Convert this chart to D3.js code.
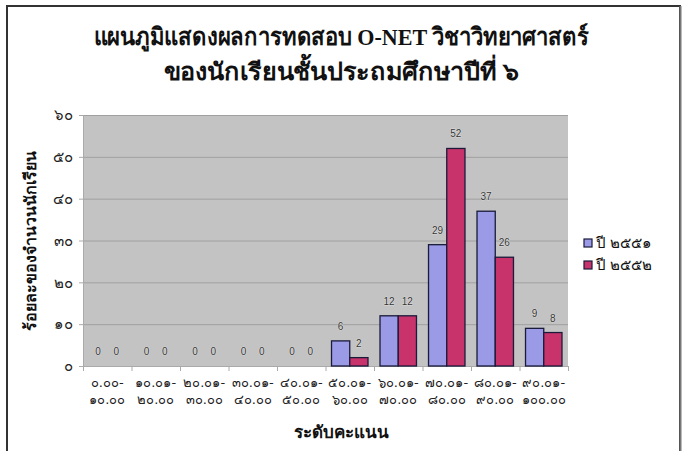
<!DOCTYPE html>
<html>
<head>
<meta charset="utf-8">
<script src="https://cdn.jsdelivr.net/npm/d3@7"></script>
<style>
  html, body { margin: 0; padding: 0; background: #fff; }
  svg { display: block; }
</style>
</head>
<body>
<svg id="chart" width="683" height="451"></svg>
<script>
const categories = [
  ["๐.๐๐-", "๑๐.๐๐"],
  ["๑๐.๐๑-", "๒๐.๐๐"],
  ["๒๐.๐๑-", "๓๐.๐๐"],
  ["๓๐.๐๑-", "๔๐.๐๐"],
  ["๔๐.๐๑-", "๕๐.๐๐"],
  ["๕๐.๐๑-", "๖๐.๐๐"],
  ["๖๐.๐๑-", "๗๐.๐๐"],
  ["๗๐.๐๑-", "๘๐.๐๐"],
  ["๘๐.๐๑-", "๙๐.๐๐"],
  ["๙๐.๐๑-", "๑๐๐.๐๐"]
];
const seriesNames = ["ปี ๒๕๕๑", "ปี ๒๕๕๒"];
const values2551 = [0, 0, 0, 0, 0, 6, 12, 29, 37, 9];
const values2552 = [0, 0, 0, 0, 0, 2, 12, 52, 26, 8];
const yTicks = [0, 10, 20, 30, 40, 50, 60];
const yTickLabels = ["๐", "๑๐", "๒๐", "๓๐", "๔๐", "๕๐", "๖๐"];
const titleLines = ["แผนภูมิแสดงผลการทดสอบ O-NET วิชาวิทยาศาสตร์", "ของนักเรียนชั้นประถมศึกษาปีที่ ๖"];
const xTitle = "ระดับคะแนน";
const yTitle = "ร้อยละของจำนวนนักเรียน";
const colors = ["#9a9ae6", "#c8336b"];

const svg = d3.select("#chart");
const plot = {left: 83, top: 115, right: 568, bottom: 366};

// outer border
svg.append("rect").attr("x", 7).attr("y", 6).attr("width", 673).attr("height", 460)
  .attr("fill", "#fff").attr("stroke", "#333").attr("stroke-width", 2);
svg.append("line").attr("x1", 680.5).attr("x2", 680.5).attr("y1", 6).attr("y2", 451)
  .attr("stroke", "#777").attr("stroke-width", 2);

const serif = "'Liberation Serif', 'DejaVu Serif', serif";
const sans = "'DejaVu Sans', 'Liberation Sans', 'Noto Sans', sans-serif";

// title
const titleWidths = [495, 355];
svg.append("g").selectAll("text").data(titleLines).join("text")
  .attr("x", 341).attr("y", (d, i) => 45 + i * 35)
  .attr("text-anchor", "middle")
  .attr("font-family", serif).attr("font-weight", "bold").attr("font-size", 24)
  .attr("textLength", (d, i) => titleWidths[i]).attr("lengthAdjust", "spacingAndGlyphs")
  .attr("fill", "#111")
  .text(d => d);

const x = d3.scaleBand().domain(d3.range(categories.length)).range([plot.left, plot.right]);
const xInner = d3.scaleBand().domain([0, 1]).range([0, x.bandwidth()]).paddingInner(0).paddingOuter(0.33);
const y = d3.scaleLinear().domain([0, 60]).range([plot.bottom, plot.top]);

// plot background
svg.append("rect").attr("x", plot.left).attr("y", plot.top)
  .attr("width", plot.right - plot.left).attr("height", plot.bottom - plot.top)
  .attr("fill", "#c3c3c3");

// gridlines
svg.append("g").selectAll("line").data(yTicks.filter(t => t > 0)).join("line")
  .attr("x1", plot.left).attr("x2", plot.right)
  .attr("y1", d => y(d) + 0.5).attr("y2", d => y(d) + 0.5)
  .attr("stroke", "#a0a0a0").attr("stroke-width", 1);

// y axis
const yAxis = d3.axisLeft(y).tickValues(yTicks).tickSize(4).tickPadding(6)
  .tickFormat((d, i) => yTickLabels[i]);
const gy = svg.append("g").attr("transform", `translate(${plot.left},0)`).call(yAxis);
gy.select(".domain").attr("stroke", "#aaa");
gy.selectAll(".tick line").attr("stroke", "#aaa");
gy.selectAll(".tick text").attr("font-family", sans).attr("font-size", 15).attr("fill", "#222");

// x axis
const xb = d3.scaleLinear().domain([0, categories.length]).range([plot.left, plot.right]);
const gx = svg.append("g").attr("transform", `translate(0,${plot.bottom})`)
  .call(d3.axisBottom(xb).tickValues(d3.range(categories.length + 1)).tickSize(5).tickFormat(""));
gx.select(".domain").attr("stroke", "#aaa");
gx.selectAll(".tick line").attr("stroke", "#aaa");

const catLabels = svg.append("g").selectAll("text").data(categories).join("text")
  .attr("text-anchor", "middle")
  .attr("font-family", sans).attr("font-size", 13).attr("fill", "#222");
catLabels.each(function(d, i) {
  const t = d3.select(this);
  d.forEach((line, j) => {
    t.append("tspan").attr("x", x(i) + x.bandwidth() / 2).attr("y", 387 + j * 17).text(line);
  });
});

// bars
const series = [values2551, values2552];
series.forEach((vals, s) => {
  const g = svg.append("g");
  g.selectAll("rect").data(vals).join("rect")
    .attr("x", (d, i) => x(i) + xInner(s))
    .attr("y", d => y(d))
    .attr("width", xInner.bandwidth())
    .attr("height", d => y(0) - y(d))
    .attr("fill", colors[s])
    .attr("stroke", d => d > 0 ? "#1a1a3a" : "none").attr("stroke-width", 1.3);
  g.selectAll("text").data(vals).join("text")
    .attr("x", (d, i) => x(i) + xInner(s) + xInner.bandwidth() / 2)
    .attr("y", d => y(d) - 11)
    .attr("text-anchor", "middle")
    .attr("font-family", "'Liberation Sans', Arial, sans-serif").attr("font-size", 10)
    .attr("fill", "#333")
    .attr("stroke", "#eee").attr("stroke-width", 0.6).attr("paint-order", "stroke")
    .text(d => d);
});

// axis titles
svg.append("text").attr("x", 341).attr("y", 438).attr("text-anchor", "middle")
  .attr("font-family", serif).attr("font-weight", "bold").attr("font-size", 17).attr("fill", "#111")
  .text(xTitle);
svg.append("text").attr("transform", "translate(36,241) rotate(-90)").attr("text-anchor", "middle")
  .attr("font-family", serif).attr("font-weight", "bold").attr("font-size", 16).attr("fill", "#111")
  .text(yTitle);

// legend
const lg = svg.append("g");
seriesNames.forEach((n, i) => {
  const ly = 243 + i * 22;
  lg.append("rect").attr("x", 584).attr("y", ly - 4).attr("width", 8).attr("height", 8)
    .attr("fill", colors[i]).attr("stroke", "#1a1a3a").attr("stroke-width", 1.2);
  lg.append("text").attr("x", 596).attr("y", ly + 5)
    .attr("font-family", serif).attr("font-size", 15).attr("fill", "#111").text(n);
});
</script>
</body>
</html>
